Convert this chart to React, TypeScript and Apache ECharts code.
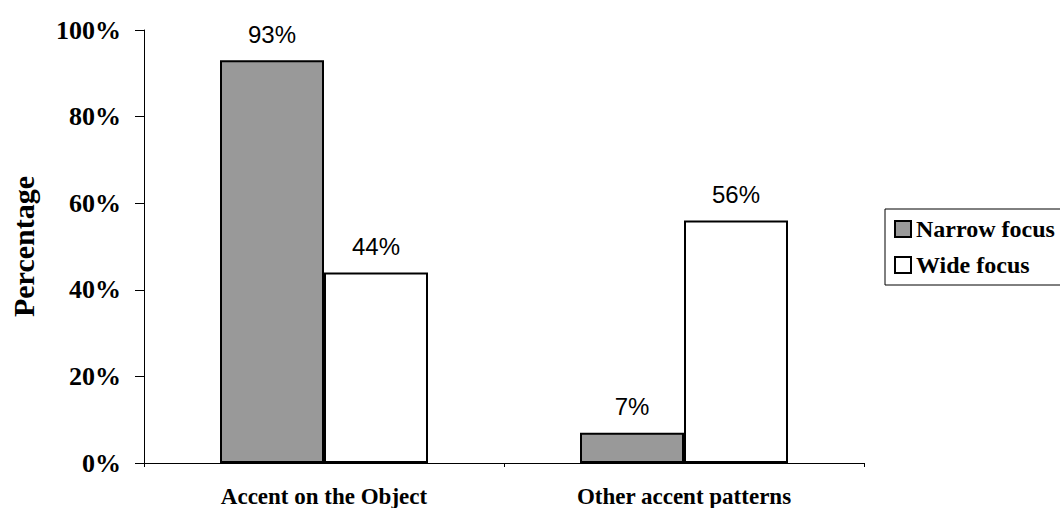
import React, { useEffect, useRef } from "react";
import * as echarts from "echarts";

const categories = ["Accent on the Object", "Other accent patterns"];
const narrowFocus = [93, 7];
const wideFocus = [44, 56];
const seriesNames = ["Narrow focus", "Wide focus"];

export default function App() {
  const ref = useRef<HTMLDivElement>(null);
  useEffect(() => {
    if (!ref.current) return;
    const chart = echarts.init(ref.current, null, { renderer: "svg" });
    const serif = "'Liberation Serif', 'Times New Roman', serif";
    const sans = "'Liberation Sans', Arial, sans-serif";
    const barLabel = {
      show: true,
      position: "top",
      distance: 14,
      color: "#000",
      fontFamily: sans,
      fontSize: 24,
      formatter: (p: any) => p.value + "%",
    };
    chart.setOption({
      animation: false,
      backgroundColor: "#fff",
      grid: { left: 141, right: 196, top: 30, bottom: 44, containLabel: false },
      legend: {
        orient: "vertical",
        left: 885,
        top: 209,
        padding: [8, 40, 8, 9],
        itemGap: 12,
        itemWidth: 16,
        itemHeight: 16,
        borderColor: "#000",
        borderWidth: 1,
        icon: "rect",
        itemStyle: { borderColor: "#000", borderWidth: 2 },
        textStyle: { fontFamily: serif, fontWeight: "bold", fontSize: 24, color: "#000", padding: [0, 0, 0, 0] },
        data: seriesNames,
      },
      xAxis: {
        type: "category",
        data: categories,
        axisLine: { lineStyle: { color: "#000", width: 1 } },
        axisTick: { show: true, length: 4, lineStyle: { color: "#000" } },
        axisLabel: { fontFamily: serif, fontWeight: "bold", fontSize: 23, color: "#000", margin: 22 },
        splitLine: { show: false },
      },
      yAxis: {
        type: "value",
        min: 0,
        max: 100,
        interval: 20,
        name: "Percentage",
        nameLocation: "middle",
        nameGap: 106,
        nameTextStyle: { fontFamily: serif, fontWeight: "bold", fontSize: 30, color: "#000" },
        axisLine: { show: true, lineStyle: { color: "#000", width: 1 } },
        axisTick: { show: true, length: 9, lineStyle: { color: "#000" } },
        axisLabel: {
          fontFamily: serif,
          fontWeight: "bold",
          fontSize: 26,
          color: "#000",
          margin: 23,
          formatter: (v: number) => v + "%",
        },
        splitLine: { show: false },
      },
      series: [
        {
          name: seriesNames[0],
          type: "bar",
          data: narrowFocus,
          barWidth: 104,
          barGap: "0%",
          itemStyle: { color: "#999999", borderColor: "#000", borderWidth: 2 },
          label: barLabel,
        },
        {
          name: seriesNames[1],
          type: "bar",
          data: wideFocus,
          barWidth: 104,
          barGap: "0%",
          itemStyle: { color: "#ffffff", borderColor: "#000", borderWidth: 2 },
          label: barLabel,
        },
      ],
    });
    return () => chart.dispose();
  }, []);
  return (
    <div
      ref={ref}
      style={{ position: "fixed", left: 0, top: 0, width: 1060, height: 508, background: "#fff" }}
    />
  );
}
